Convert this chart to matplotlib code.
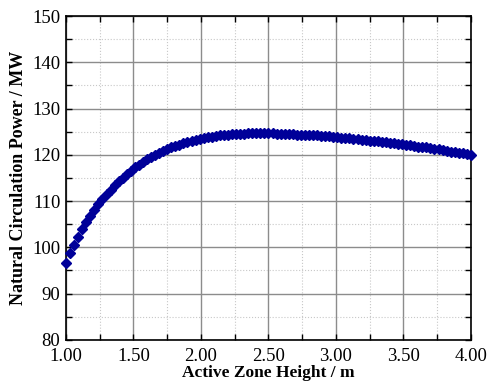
import numpy as np
import matplotlib.pyplot as plt
from matplotlib.ticker import MultipleLocator, FormatStrFormatter

plt.rcParams['font.family'] = ['Liberation Serif', 'DejaVu Serif']

# active zone height / m (step 0.03)
height = np.round(np.arange(101) * 0.03 + 1.0, 2)

# natural circulation power / MW
power = [
    96.7, 98.7, 100.6, 102.3, 103.9, 105.4, 106.8, 108.1, 109.3, 110.4,
    111.5, 112.5, 113.4, 114.3, 115.1, 115.9, 116.6, 117.3, 117.9, 118.5,
    119.0, 119.5, 120.0, 120.4, 120.8, 121.2, 121.6, 121.9, 122.2, 122.5,
    122.8, 123.0, 123.2, 123.4, 123.6, 123.8, 123.9, 124.1, 124.2, 124.3,
    124.4, 124.5, 124.5, 124.6, 124.6, 124.7, 124.7, 124.7, 124.7, 124.7,
    124.7, 124.7, 124.6, 124.6, 124.6, 124.5, 124.5, 124.4, 124.4, 124.3,
    124.3, 124.2, 124.2, 124.1, 124.0, 124.0, 123.9, 123.8, 123.7, 123.7,
    123.6, 123.5, 123.4, 123.3, 123.2, 123.1, 123.0, 122.9, 122.8, 122.7,
    122.6, 122.5, 122.4, 122.3, 122.2, 122.1, 121.9, 121.8, 121.7, 121.6,
    121.4, 121.3, 121.2, 121.0, 120.9, 120.7, 120.6, 120.4, 120.3, 120.1,
    119.9,
]

fig = plt.figure(figsize=(4.89, 3.84), dpi=100)
ax = fig.add_axes([0.135, 0.115, 0.828, 0.843])

ax.plot(height, power, ls='none', marker='D', ms=5.5, color='#000099',
        mec='#000099', zorder=3, clip_on=False)

ax.set_xlim(1.0, 4.0)
ax.set_ylim(80, 150)
ax.xaxis.set_major_locator(MultipleLocator(0.5))
ax.xaxis.set_minor_locator(MultipleLocator(0.25))
ax.yaxis.set_major_locator(MultipleLocator(10))
ax.yaxis.set_minor_locator(MultipleLocator(5))
ax.xaxis.set_major_formatter(FormatStrFormatter('%.2f'))

ax.grid(which='major', color='#8c8c8c', lw=1.0, ls='-')
ax.grid(which='minor', color='#c8c8c8', lw=0.8, ls=':')
ax.set_axisbelow(True)

ax.tick_params(which='both', direction='in', top=True, right=True,
               labelsize=13.5, length=4, width=1)
ax.tick_params(axis='x', pad=6)
ax.tick_params(axis='y', pad=4)
for s in ax.spines.values():
    s.set_linewidth(1.2)

ax.set_xlabel('Active Zone Height / m', fontsize=12.5, fontweight='bold', labelpad=0)
ax.set_ylabel('Natural Circulation Power / MW', fontsize=13, fontweight='bold', labelpad=4)

fig.savefig('out.png', dpi=100)
